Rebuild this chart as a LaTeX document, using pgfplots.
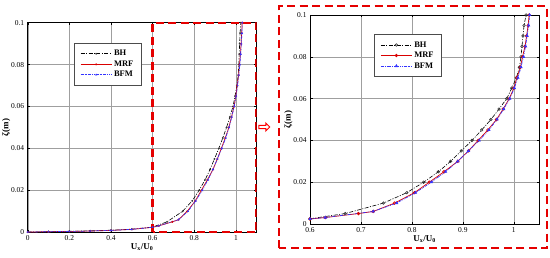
\documentclass[border=0pt]{standalone}
\usepackage{pgfplots}
\pgfplotsset{compat=1.18}
\usepackage{fontspec}
\setmainfont{Liberation Serif}
\usetikzlibrary{shapes.arrows}

% profiles: zeta (m) vs Ux/U0
\pgfplotstableread{
x y
0 0.0001
0.1 0.0003
0.2 0.0005
0.3 0.0007
0.4 0.001
0.5 0.0015
0.6 0.0025
0.669 0.005
0.744 0.01
0.790 0.015
0.823 0.02
0.852 0.025
0.876 0.03
0.897 0.035
0.918 0.04
0.937 0.045
0.955 0.05
0.971 0.055
0.986 0.06
0.996 0.065
1.005 0.07
1.011 0.075
1.014 0.08
1.016 0.085
1.018 0.09
1.020 0.095
1.024 0.1
}\bh
\pgfplotstableread{
x y
0 0.0001
0.1 0.0003
0.2 0.0004
0.3 0.0006
0.4 0.0009
0.5 0.0014
0.6 0.0024
0.63 0.0031
0.695 0.005
0.724 0.006
0.766 0.01
0.805 0.015
0.834 0.02
0.863 0.025
0.890 0.03
0.911 0.035
0.930 0.04
0.949 0.045
0.966 0.05
0.979 0.055
0.991 0.06
1.000 0.065
1.006 0.07
1.013 0.075
1.017 0.08
1.022 0.085
1.025 0.09
1.028 0.095
1.030 0.1
}\mrf
\pgfplotstableread{
x y
0 0.0001
0.1 0.0003
0.2 0.0004
0.3 0.0006
0.4 0.0009
0.5 0.0014
0.6 0.0024
0.63 0.0031
0.724 0.006
0.770 0.01
0.807 0.015
0.838 0.02
0.866 0.025
0.890 0.03
0.911 0.035
0.932 0.04
0.951 0.045
0.967 0.05
0.980 0.055
0.992 0.06
1.001 0.065
1.008 0.07
1.014 0.075
1.019 0.08
1.023 0.085
1.026 0.09
1.029 0.095
1.031 0.1
}\bfm

\tikzset{redbox/.style={red!90!black, line width=2.8pt, dash pattern=on 8bp off 4.5bp}}

\pgfplotsset{
  panel/.style={
    scale only axis,
    anchor=south west,
    ymin=0, ymax=0.1,
    ytick={0,0.02,...,0.1},
    grid=major,
    major grid style={gray!75, line width=0.4pt},
    axis line style={line width=0.8pt},
    tick style={black, line width=0.4pt},
    major tick length=2.5bp,
    tick label style={font=\fontsize{7.5}{9}\selectfont},
    /pgf/number format/assume math mode=true,
    scaled ticks=false,
    yticklabel style={/pgf/number format/fixed, /pgf/number format/precision=2},
    xticklabel style={/pgf/number format/fixed},
    xlabel={\textbf{U\textsubscript{x}/U\textsubscript{0}}},
    ylabel={\textbf{ζ(m)}},
    label style={font=\fontsize{9}{10}\selectfont},
    xlabel style={yshift=4bp},
    ylabel style={yshift=-6bp},
    legend cell align=left,
    legend style={draw=black!70, line width=0.5pt, font=\fontsize{8.5}{10}\selectfont\bfseries,
      row sep=-0.5pt, inner xsep=6bp, inner ysep=5bp},
    legend image code/.code={\draw[mark repeat=2,mark phase=2,##1] plot coordinates {(0cm,0cm)(0.55cm,0cm)(1.1cm,0cm)};},
  },
  bh/.style={black, line width=0.6pt, dash pattern=on 4pt off 1.5pt on 1pt off 1.5pt, mark=o, mark options={solid, black!80}},
  mrf/.style={red!85!black, line width=0.7pt, mark=o, mark options={solid, fill=red!30}},
  bfm/.style={blue!80, line width=0.7pt, dash pattern=on 3pt off 1pt on 0.8pt off 1pt on 0.8pt off 1pt, mark=triangle*, mark options={solid, blue!80}},
}

\begin{document}
\begin{tikzpicture}[x=1bp,y=1bp]
\useasboundingbox (0,0) rectangle (550,257);

% left panel
\begin{axis}[panel,
  at={(27.7bp,24.7bp)}, width=229bp, height=209.6bp,
  xmin=0, xmax=1.1, xtick={0,0.2,...,1},
  legend style={at={(0.202,0.903)}, anchor=north west},
  every axis plot/.append style={mark size=0.6pt},
]
\addplot[bh] table {\bh}; \addlegendentry{BH}
\addplot[mrf] table {\mrf}; \addlegendentry{MRF}
\addplot[bfm] table {\bfm}; \addlegendentry{BFM}
\draw[redbox] (axis cs:0.6,0) rectangle (axis cs:1.1,0.1);
\end{axis}

% right panel (zoom)
\begin{axis}[panel,
  at={(310bp,33bp)}, width=229.3bp, height=209bp,
  xmin=0.6, xmax=1.05, xtick={0.6,0.7,...,1.0},
  legend style={at={(0.28,0.908)}, anchor=north west},
  every axis plot/.append style={mark size=1.3pt},
]
\addplot[bh, restrict x to domain=0.59:1.1] table {\bh}; \addlegendentry{BH}
\addplot[mrf, restrict x to domain=0.59:1.1] table {\mrf}; \addlegendentry{MRF}
\addplot[bfm, restrict x to domain=0.59:1.1] table {\bfm}; \addlegendentry{BFM}
\end{axis}

\draw[redbox] (279,9) rectangle (547,251);
\node[single arrow, draw=red, fill=white, line width=1pt, minimum height=11bp, minimum width=8bp,
  inner sep=0.6bp, single arrow head extend=1.8bp] at (263.5,130) {};
\end{tikzpicture}
\end{document}
